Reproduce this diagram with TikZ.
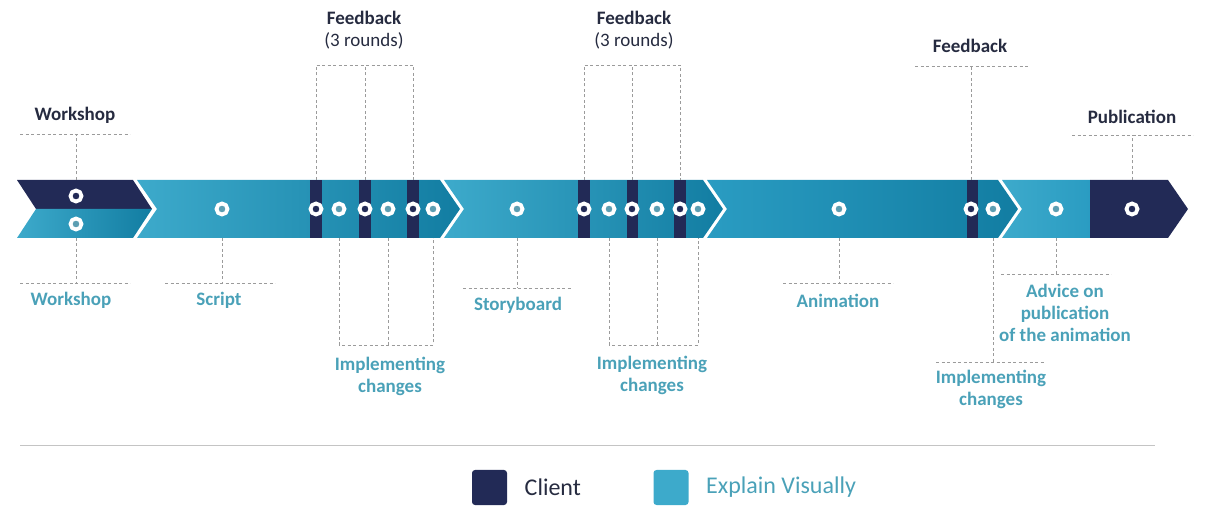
\documentclass[tikz,border=0pt]{standalone}
\usepackage{fontspec}
\setmainfont{Carlito}
\usepackage{xcolor}
\usepackage{tikz}
\usetikzlibrary{positioning}
\definecolor{navy900}{HTML}{222A56}
\definecolor{teal300}{HTML}{3DAACB}
\definecolor{teal400}{HTML}{2A9CC2}
\definecolor{teal600}{HTML}{127DA2}
\definecolor{tealtext}{HTML}{4AA1B8}
\definecolor{tealdot}{HTML}{5C9EB2}
\definecolor{gray400}{HTML}{9B9B9B}
\definecolor{gray300}{HTML}{C4C4C4}
\definecolor{ink}{HTML}{262B40}
\tikzset{
  every node/.style={font=\fontsize{19}{22}\selectfont},
  clientdot/.style={
    circle, draw=white, line width=3.8pt, fill=navy900,
    minimum size=11pt, inner sep=0pt
  },
  teamdot/.style={clientdot, fill=tealdot},
  clientlabel/.style={text=ink, align=center, font=\fontsize{19}{22}\selectfont\bfseries},
  teamlabel/.style={text=tealtext, align=center, font=\fontsize{19}{22}\selectfont\bfseries},
  leader/.style={draw=gray400, line width=0.9pt, dash pattern=on 3pt off 2.5pt},
  legendbox/.style={
    rectangle, rounded corners=3pt,
    minimum size=35pt, inner sep=0pt
  },
}

\begin{document}
\begin{tikzpicture}[x=1pt,y=-1pt]
  \useasboundingbox (0,0) rectangle (1224,518);
  \coordinate (bandTop) at (0,180);
  \coordinate (bandBot) at (0,238);
  % the band
  \fill[navy900] (17,180) -- (133,180) -- (152,209) -- (36,209) -- cycle;
  \shade[left color=teal300, right color=teal600] (36,209) -- (152,209) -- (133,238) -- (17,238) -- cycle;
  \shade[left color=teal300, right color=teal600] (137,180) -- (440,180) -- (460,209) -- (440,238) -- (137,238) -- (157,209) -- cycle;
  \shade[left color=teal300, right color=teal600] (444,180) -- (703,180) -- (723,209) -- (703,238) -- (444,238) -- (464,209) -- cycle;
  \shade[left color=teal400, right color=teal600] (707,180) -- (998,180) -- (1018,209) -- (998,238) -- (707,238) -- (727,209) -- cycle;
  \shade[left color=teal300, right color=teal400] (1002,180) -- (1090,180) -- (1090,238) -- (1002,238) -- (1022,209) -- cycle;
  \fill[navy900] (1090,180) -- (1168,180) -- (1188,209) -- (1168,238) -- (1090,238) -- cycle;
  \fill[navy900] (310,180) rectangle (322,238);
  \fill[navy900] (359,180) rectangle (371,238);
  \fill[navy900] (407,180) rectangle (419,238);
  \fill[navy900] (578,180) rectangle (590,238);
  \fill[navy900] (627,180) rectangle (638,238);
  \fill[navy900] (674,180) rectangle (686,238);
  \fill[navy900] (967,180) rectangle (978,238);
  % milestones
  \node[clientdot] (wsClient) at (76,196) {};
  \node[teamdot] (wsTeam) at (76,224) {};
  \node[teamdot] (script) at (222,209) {};
  \node[clientdot] (fbA1) at (316,209) {};
  \node[teamdot] (chA1) at (339,209) {};
  \node[clientdot] (fbA2) at (365,209) {};
  \node[teamdot] (chA2) at (388,209) {};
  \node[clientdot] (fbA3) at (413,209) {};
  \node[teamdot] (chA3) at (433,209) {};
  \node[teamdot] (story) at (517,209) {};
  \node[clientdot] (fbB1) at (584,209) {};
  \node[teamdot] (chB1) at (609,209) {};
  \node[clientdot] (fbB2) at (632,209) {};
  \node[teamdot] (chB2) at (657,209) {};
  \node[clientdot] (fbB3) at (680,209) {};
  \node[teamdot] (chB3) at (698,209) {};
  \node[teamdot] (anim) at (839,209) {};
  \node[clientdot] (fbC) at (971,209) {};
  \node[teamdot] (chC) at (993,209) {};
  \node[teamdot] (advice) at (1056,209) {};
  \node[clientdot] (publish) at (1132,209) {};
  % labels above
  \node[clientlabel] (wsClientLbl) at (75,115) {Workshop};
  \node[clientlabel] (fbALbl) at (364,30) {Feedback\\\mdseries(3 rounds)};
  \node[clientlabel] (fbBLbl) at (634,30) {Feedback\\\mdseries(3 rounds)};
  \node[clientlabel] (fbCLbl) at (970,46) {Feedback};
  \node[clientlabel] (publishLbl) at (1132,117) {Publication};
  % labels below
  \node[teamlabel] (wsTeamLbl) at (71,300) {Workshop};
  \node[teamlabel] (scriptLbl) at (219,300) {Script};
  \node[teamlabel] (storyLbl) at (518,305) {Storyboard};
  \node[teamlabel] (animLbl) at (838,301) {Animation};
  \node[teamlabel] (chALbl) at (390,376) {Implementing\\changes};
  \node[teamlabel] (chBLbl) at (652,375) {Implementing\\changes};
  \node[teamlabel] (chCLbl) at (991,389) {Implementing\\changes};
  \node[teamlabel] (adviceLbl) at (1065,313) {Advice on\\publication\\of the animation};
  % leaders above
  \coordinate (wsClientBar) at (76,134);
  \draw[leader] (wsClient |- bandTop) -- (wsClientBar);
  \draw[leader] ([xshift=-56pt]wsClientBar) -- ([xshift=54pt]wsClientBar);
  \coordinate (fbABar) at (0,65);
  \draw[leader] (fbA1 |- bandTop) -- (fbA1 |- fbABar) -- (fbA3 |- fbABar) -- (fbA3 |- bandTop);
  \draw[leader] (fbA2 |- bandTop) -- (fbA2 |- fbABar);
  \draw[leader] (fbB1 |- bandTop) -- (fbB1 |- fbABar) -- (fbB3 |- fbABar) -- (fbB3 |- bandTop);
  \draw[leader] (fbB2 |- bandTop) -- (fbB2 |- fbABar);
  \coordinate (fbCBar) at (971,66);
  \draw[leader] (fbC |- bandTop) -- (fbCBar);
  \draw[leader] ([xshift=-56pt]fbCBar) -- ([xshift=59pt]fbCBar);
  \coordinate (publishBar) at (1132,135);
  \draw[leader] (publish |- bandTop) -- (publishBar);
  \draw[leader] ([xshift=-60pt]publishBar) -- ([xshift=61pt]publishBar);
  % leaders below
  \coordinate (wsTeamBar) at (76,283);
  \draw[leader] (wsTeam |- bandBot) -- (wsTeamBar);
  \draw[leader] ([xshift=-56pt]wsTeamBar) -- ([xshift=54pt]wsTeamBar);
  \coordinate (scriptBar) at (222,283);
  \draw[leader] (script |- bandBot) -- (scriptBar);
  \draw[leader] ([xshift=-57pt]scriptBar) -- ([xshift=53pt]scriptBar);
  \coordinate (chABar) at (0,345);
  \draw[leader] (chA1 |- bandBot) -- (chA1 |- chABar) -- (chA3 |- chABar) -- (chA3 |- bandBot);
  \draw[leader] (chA2 |- bandBot) -- (chA2 |- chABar);
  \draw[leader] (chB1 |- bandBot) -- (chB1 |- chABar) -- (chB3 |- chABar) -- (chB3 |- bandBot);
  \draw[leader] (chB2 |- bandBot) -- (chB2 |- chABar);
  \coordinate (storyBar) at (517,288);
  \draw[leader] (story |- bandBot) -- (storyBar);
  \draw[leader] ([xshift=-54pt]storyBar) -- ([xshift=55pt]storyBar);
  \coordinate (animBar) at (839,283);
  \draw[leader] (anim |- bandBot) -- (animBar);
  \draw[leader] ([xshift=-56pt]animBar) -- ([xshift=54pt]animBar);
  \coordinate (chCBar) at (993,362);
  \draw[leader] (chC |- bandBot) -- (chCBar);
  \draw[leader] ([xshift=-57pt]chCBar) -- ([xshift=52pt]chCBar);
  \coordinate (adviceBar) at (1056,274);
  \draw[leader] (advice |- bandBot) -- (adviceBar);
  \draw[leader] ([xshift=-55pt]adviceBar) -- ([xshift=55pt]adviceBar);
  % legend
  \draw[gray300, line width=1pt] (20,446) -- (1155,446);
  \node[legendbox, fill=navy900] (keyClient) at (489.5,487.5) {};
  \node[right=14pt of keyClient, text=ink, font=\fontsize{24}{28}\selectfont] (keyClientTxt) {Client};
  \node[legendbox, fill=teal300] (keyTeam) at (671,487.5) {};
  \node[right=14pt of keyTeam, text=tealtext, font=\fontsize{24}{28}\selectfont] (keyTeamTxt) {Explain Visually};
\end{tikzpicture}
\end{document}
